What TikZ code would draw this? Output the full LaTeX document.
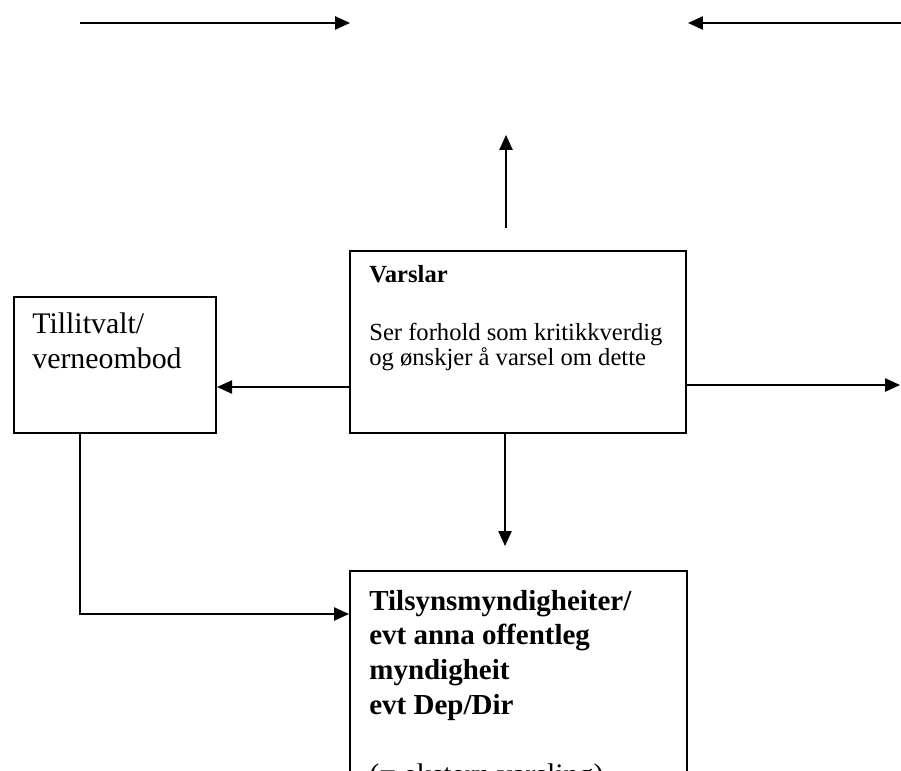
\documentclass[tikz,border=0pt]{standalone}
\usepackage{fontspec}
\setmainfont{Liberation Serif}
\usetikzlibrary{arrows.meta}
\begin{document}
\begin{tikzpicture}[x=0.02cm,y=-0.02cm,
  boks/.style={draw,line width=1.2pt,anchor=north west,inner sep=0pt},
  tekst/.style={anchor=base west,align=left,inner sep=0pt},
  pil/.style={-{Triangle[length=8.5pt,width=7.5pt]},line width=1pt}]
\useasboundingbox (0,0) rectangle (901,770);
\clip (0,0) rectangle (901,770);
% boksane
\node[boks,minimum width=6.72cm,minimum height=3.64cm] (varslar) at (349,250) {};
\node[boks,minimum width=4.04cm,minimum height=2.72cm] (tillit) at (13,296) {};
\node[boks,minimum width=6.74cm,minimum height=5.2cm] (tilsyn) at (349,570) {};
% tekst i boksane (base = siste linja)
\node[tekst,font=\bfseries\fontsize{14}{14.2}\selectfont] (varslar-namn) at ([shift={(20,32)}]varslar.north west) {Varslar};
\node[tekst,font=\fontsize{14}{14.2}\selectfont] (varslar-tekst) at ([shift={(20,115)}]varslar.north west) {Ser forhold som kritikkverdig\\og ønskjer å varsel om dette};
\node[tekst,font=\fontsize{17}{19.9}\selectfont] (tillit-tekst) at ([shift={(19,72)}]tillit.north west) {Tillitvalt/\\verneombod};
\node[tekst,font=\fontsize{16.5}{19.8}\selectfont] (tilsyn-tekst) at ([shift={(20,214)}]tilsyn.north west) {\textbf{Tilsynsmyndigheiter/}\\\textbf{evt anna offentleg}\\\textbf{myndigheit}\\\textbf{evt Dep/Dir}\\[19.8pt]{\fontsize{17}{19.8}\selectfont(= ekstern varsling)}};
% piler utan boks i enden
\coordinate (topp-v1) at (80,23);
\coordinate (topp-v2) at (350,23);
\coordinate (topp-h1) at (901,23);
\coordinate (topp-h2) at (688,23);
\coordinate (opp1) at (506,228);
\coordinate (opp2) at (506,135);
\coordinate (hogre) at (900,385);
\coordinate (ned) at (505,546);
\draw[pil] (topp-v1) -- (topp-v2);
\draw[pil] (topp-h1) -- (topp-h2);
\draw[pil] (opp1) -- (opp2);
% piler mellom boksane
\draw[pil] (varslar.west |- 0,387) -- (tillit.east |- 0,387);
\draw[pil] (varslar.east |- 0,385) -- (hogre);
\draw[pil] (varslar.south -| ned) -- (ned);
\draw[pil] (tillit.south -| 80,0) |- (tilsyn.west |- 0,614);
\end{tikzpicture}
\end{document}
